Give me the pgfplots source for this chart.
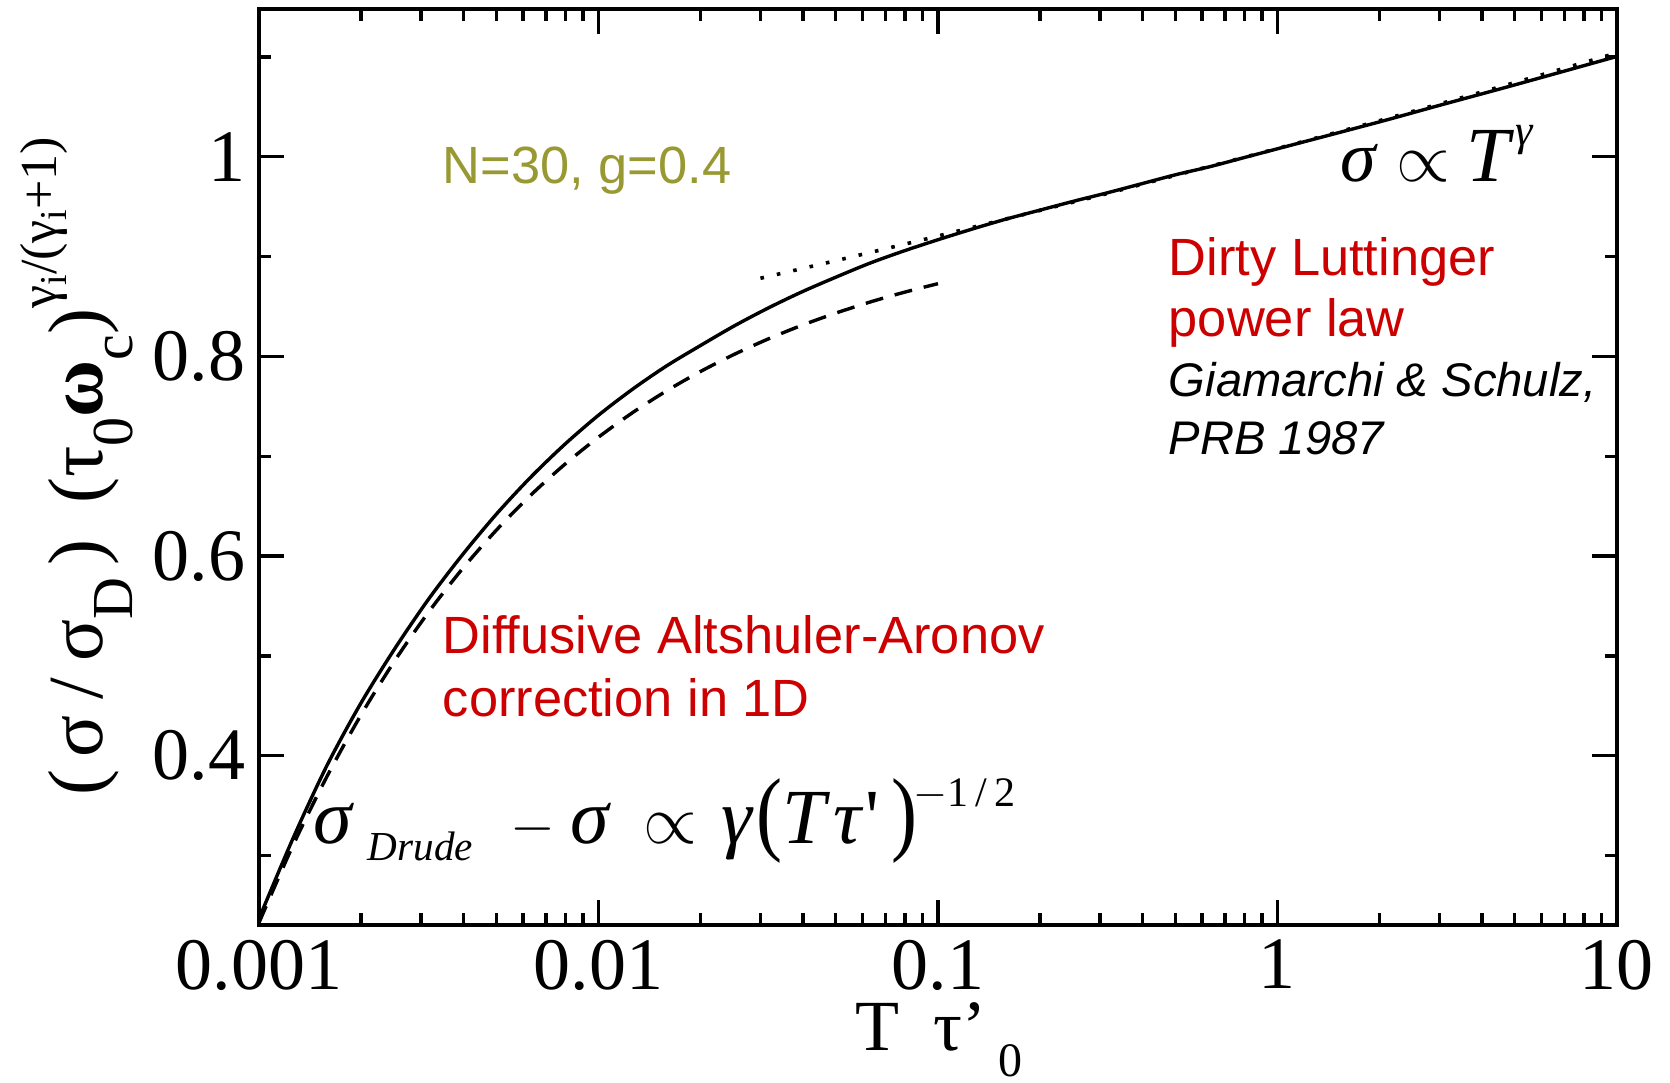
\documentclass[border=0pt]{standalone}
\usepackage{fontspec}
\setmainfont{Liberation Serif}
\newfontfamily\sansf{Liberation Sans}
\usepackage{amsmath}
\usepackage{graphicx}
\usepackage{pgfplots}
\pgfplotsset{compat=1.18}
\definecolor{olivetxt}{RGB}{153,153,51}
\definecolor{redtxt}{RGB}{204,0,0}
\newcommand{\fs}[1]{\fontsize{#1}{#1}\selectfont}

\pgfplotstableread{
x y
0.001 0.2368
0.001259 0.3171
0.001585 0.3901
0.001995 0.4525
0.002512 0.5073
0.003162 0.5571
0.003981 0.6016
0.005012 0.6423
0.00631 0.6789
0.007943 0.7117
0.01 0.7411
0.01259 0.7671
0.01585 0.7904
0.01995 0.8108
0.02512 0.8306
0.03162 0.8485
0.03981 0.8648
0.05012 0.8795
0.0631 0.8935
0.07943 0.9057
0.1 0.9169
0.1259 0.9275
0.1585 0.9375
0.1995 0.9465
0.2512 0.9555
0.3162 0.964
0.3981 0.973
0.5012 0.982
0.631 0.990
0.7943 0.999
1 1.008
2 1.035
3 1.0515
5 1.072
10 1.1005
}\solid

\pgfplotstableread{
x y
0.001 0.2328
0.001259 0.3101
0.001585 0.3791
0.001995 0.4405
0.002512 0.4953
0.003162 0.5441
0.003981 0.5876
0.005012 0.6263
0.00631 0.6609
0.007943 0.6917
0.01 0.7191
0.01259 0.7436
0.01585 0.7654
0.01995 0.7848
0.02512 0.8021
0.03162 0.8175
0.03981 0.8313
0.05012 0.8435
0.0631 0.8545
0.07943 0.8642
0.1 0.8729
}\dashed

\pgfplotstableread{
x y
0.03 0.8783
0.05 0.8959
0.07 0.9078
0.1 0.9206
0.2 0.9463
0.3 0.9613
0.5 0.9813
1 1.0083
2 1.0362
3 1.0529
5 1.0743
10 1.104
}\dotted

\begin{document}
\begin{tikzpicture}
\begin{axis}[
  scale only axis, width=339.5pt, height=229pt,
  xmode=log, xmin=0.001, xmax=10, ymin=0.2305, ymax=1.148,
  xtick={0.001,0.01,0.1,1,10}, xticklabels={0.001,0.01,0.1,1,10},
  minor xtick={0.002,0.003,0.004,0.005,0.006,0.007,0.008,0.009,
    0.02,0.03,0.04,0.05,0.06,0.07,0.08,0.09,
    0.2,0.3,0.4,0.5,0.6,0.7,0.8,0.9,
    2,3,4,5,6,7,8,9},
  ytick={0.4,0.6,0.8,1}, yticklabels={0.4,0.6,0.8,1},
  minor ytick={0.3,0.5,0.7,0.9,1.1},
  tick align=inside,
  major tick length=6.2pt, minor tick length=3pt,
  axis line style={line width=0.85pt},
  every tick/.style={black, line width=0.85pt},
  tick label style={font=\fs{18.5}, inner sep=0pt},
  xticklabel style={yshift=-3.5pt},
  yticklabel style={xshift=-3.2pt},
  /pgf/number format/assume math mode=true,
  xlabel={\fs{18}T\hspace{8.5pt}τ’\hspace{3pt}\raisebox{-6.5pt}{\fs{12}0}},
  ylabel={\fs{19.5}(\hspace{3pt}σ\hspace{4pt}/\hspace{4pt}σ\raisebox{-7.5pt}{\fs{14.5}D}\hspace{3pt})\hspace{9pt}(τ\raisebox{-7.5pt}{\fs{14.5}0}{\bfseries ω}\raisebox{-7.5pt}{\fs{14.5}c})\raisebox{11.5pt}{\fs{13}γ\raisebox{-2.5pt}{\fs{9.5}i}/(γ\raisebox{-2.5pt}{\fs{9.5}i}+1)}},
  every axis x label/.style={at={(rel axis cs:0.501,-0.1365)}, anchor=base, inner sep=0pt},
  every axis y label/.style={at={(rel axis cs:-0.1156,0.501)}, rotate=90, anchor=base, inner sep=0pt},
]
\addplot[black, line width=0.85pt, smooth] table[x=x,y=y] {\solid};
\addplot[black, line width=0.85pt, smooth, dash pattern=on 4.5pt off 3pt] table[x=x,y=y] {\dashed};
\addplot[black, line width=0.9pt, smooth, dash pattern=on 0.9pt off 3.3pt] table[x=x,y=y] {\dotted};

\node[anchor=base west, inner sep=0pt, text=olivetxt, font=\sansf\fs{13.1}] at (rel axis cs:0.1348,0.8090) {N=30, g=0.4};
\node[anchor=base west, inner sep=0pt, text=redtxt, font=\sansf\fs{13.1}] at (rel axis cs:0.1348,0.2969) {Diffusive Altshuler-Aronov};
\node[anchor=base west, inner sep=0pt, text=redtxt, font=\sansf\fs{13.1}] at (rel axis cs:0.1348,0.2271) {correction in 1D};
\node[anchor=base west, inner sep=0pt, text=redtxt, font=\sansf\fs{13.1}] at (rel axis cs:0.6694,0.7096) {Dirty Luttinger};
\node[anchor=base west, inner sep=0pt, text=redtxt, font=\sansf\fs{13.1}] at (rel axis cs:0.6694,0.6430) {power law};
\node[anchor=base west, inner sep=0pt, text=black, font=\sansf\itshape\fs{11.8}] at (rel axis cs:0.6694,0.5770) {Giamarchi \& Schulz,};
\node[anchor=base west, inner sep=0pt, text=black, font=\sansf\itshape\fs{11.8}] at (rel axis cs:0.6694,0.5131) {PRB 1987};

\node[anchor=base west, inner sep=0pt] at (rel axis cs:0.7960,0.8122) {\fs{18}\itshape σ\hspace{5pt}{\upshape\fs{16}$\propto$}\hspace{4pt}{\fs{19.5}T}\hspace{1.5pt}\raisebox{9pt}{\fs{11}γ}};

\node[anchor=base west, inner sep=0pt] at (rel axis cs:0.03976,0.08952) {\fs{19.5}\itshape σ};
\node[anchor=base west, inner sep=0pt] at (rel axis cs:0.07953,0.07096) {\fs{10.3}\itshape Drude};
\node[anchor=base west, inner sep=0pt] at (rel axis cs:0.18483,0.08952) {\fs{15.5}$-$};
\node[anchor=base west, inner sep=0pt] at (rel axis cs:0.22901,0.08952) {\fs{19.5}\itshape σ};
\node[anchor=base west, inner sep=0pt] at (rel axis cs:0.28277,0.08952) {\fs{17}$\propto$};
\node[anchor=base west, inner sep=0pt] at (rel axis cs:0.34021,0.08952) {\fs{19.5}\itshape γ\hspace{1pt}\scalebox{1}[1.2]{\upshape (}T\hspace{2pt}τ\hspace{1pt}{\upshape\textquotesingle}\hspace{3pt}\scalebox{1}[1.2]{\upshape )}};
\node[anchor=base west, inner sep=0pt] at (rel axis cs:0.48159,0.12991) {\fs{10.5}$-$1\,/\,2};
\end{axis}
\pgfresetboundingbox
\path[use as bounding box] ([shift={(-64.75pt,-39.25pt)}]current axis.south west) rectangle ([shift={(352.75pt,231.25pt)}]current axis.south west);
\end{tikzpicture}
\end{document}
